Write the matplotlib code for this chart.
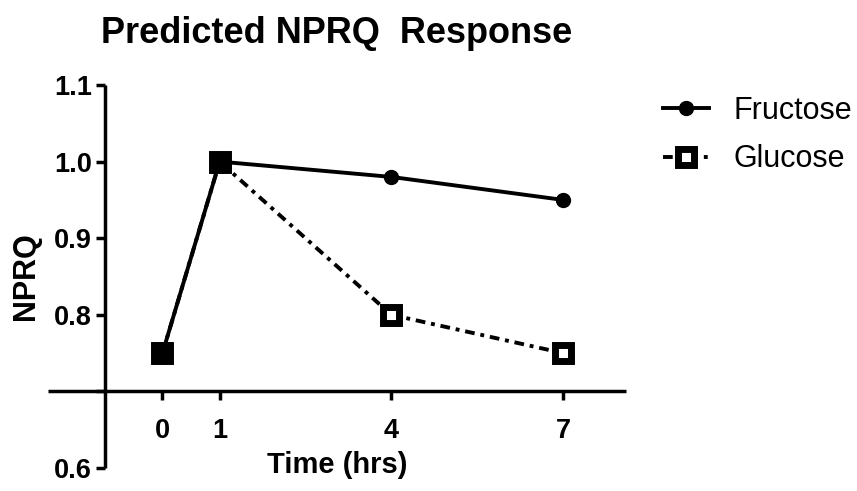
import matplotlib
matplotlib.use("Agg")
import matplotlib.pyplot as plt

# data
hours = [0, 1, 4, 7]
fructose = [0.75, 1.00, 0.98, 0.95]
glucose = [0.75, 1.00, 0.80, 0.75]
y_ticks = [0.6, 0.7, 0.8, 0.9, 1.0, 1.1]
y_labels = ["0.6", "", "0.8", "0.9", "1.0", "1.1"]

plt.rcParams['font.family'] = ['Liberation Sans', 'DejaVu Sans']

fig = plt.figure(figsize=(8.57, 4.91), dpi=100)
ax = fig.add_axes([48 / 857, 1 - 468 / 491, (626 - 48) / 857, (468 - 85) / 491])

ax.plot(hours, glucose, color='black', lw=2.8, ls=(0, (2.5, 1.5, 1, 1.5)),
        marker='s', ms=11, mew=5, mfc='white', mec='black', label='Glucose', zorder=3)
ax.plot(hours, fructose, color='black', lw=2.8, marker='o', ms=10,
        mfc='black', mec='black', label='Fructose', zorder=4)

ax.set_xlim(-2, 8.1)
ax.set_ylim(0.6, 1.1)
ax.spines['left'].set_position(('data', -1))
ax.spines['bottom'].set_position(('data', 0.7))
ax.spines['top'].set_visible(False)
ax.spines['right'].set_visible(False)
for s in ('left', 'bottom'):
    ax.spines[s].set_linewidth(2.5)
    ax.spines[s].set_capstyle('butt')

ax.set_xticks(hours)
ax.set_xticklabels([str(h) for h in hours], fontsize=19.5, fontweight='bold')
ax.set_yticks(y_ticks)
ax.set_yticklabels(y_labels, fontsize=19.5, fontweight='bold')
ax.tick_params(width=2.5, length=6.5)
ax.tick_params(axis='x', pad=13)
ax.tick_params(axis='y', pad=3)

ax.set_xlabel('Time (hrs)', fontsize=21, fontweight='bold')
ax.xaxis.set_label_coords(0.5, 0.045)
ax.set_ylabel('NPRQ', fontsize=22, fontweight='bold')
ax.yaxis.set_label_coords(-0.012, 0.5)

ax.set_title('Predicted NPRQ  Response', fontsize=26, fontweight='bold', pad=30)

handles, labels = ax.get_legend_handles_labels()
fig.legend(handles[::-1], labels[::-1], loc='upper left',
           bbox_to_anchor=(663 / 857, 1 - 96 / 491), frameon=False,
           fontsize=22, borderpad=0, borderaxespad=0,
           handlelength=1.5, handletextpad=0.8, labelspacing=0.6)

fig.savefig('out.png', dpi=100)
